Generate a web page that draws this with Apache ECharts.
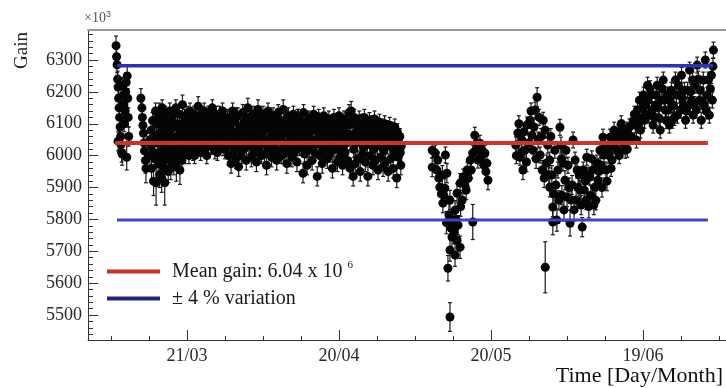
<!DOCTYPE html>
<html>
<head>
<meta charset="utf-8">
<script src="https://cdn.jsdelivr.net/npm/echarts@6/dist/echarts.min.js"></script>
<style>
  html, body { margin: 0; padding: 0; background: #fff; }
  #chart { width: 726px; height: 388px; }
</style>
</head>
<body>
<div id="chart"></div>
<script>
// PMT gain monitoring: each point is [day of year, gain (x10^3), error]
const runEarlyMarch = [
  [66.0,6345,30],[66.1,6310,25],[66.2,6285,25],[66.3,6240,25],[66.4,6215,25],[66.5,6180,25],
  [66.6,6150,25],[66.7,6120,25],[66.8,6090,25],[66.9,6060,25],[67.0,6035,30],[67.1,6010,30],
  [67.2,6005,35],[66.4,6045,30],[67.3,6220,25],[67.4,6190,25],[67.5,6160,25],[67.6,6100,25],
  [67.8,6140,30],[67.9,6200,30],[68.0,6230,30],[68.1,5995,40],[68.2,6250,30],[68.3,6180,30],
  [68.4,6120,30],[68.5,6060,30],
  [70.9,6180,30],[71.1,6150,30],[71.2,6120,30],[71.3,6095,30],[71.4,6070,30],[71.5,6040,30],
  [71.6,6015,35],[71.8,5985,40],[71.9,5960,45]
];

const runLateMarch = [
  [72.7,6050,25],[72.7,6000,30],[73.0,6030,25],[73.0,5960,35],[73.3,6010,30],[73.4,5920,45],
  [73.6,6060,25],[73.7,5990,30],[73.9,5915,70],[74.0,6100,25],[74.2,6120,25],[74.2,6040,25],
  [74.3,5975,35],[74.5,6140,25],[74.5,6070,25],[74.6,5940,40],[74.8,6095,25],[74.9,6010,30],
  [75.1,6150,25],[75.1,6050,25],[75.2,5980,30],[75.4,6110,25],[75.4,6020,25],[75.5,5960,35],
  [75.6,5915,70],[75.7,6130,25],[75.8,6075,25],[76.0,6000,30],[76.1,6100,25],[76.3,6060,25],
  [76.3,5950,35],[76.6,6140,25],[76.6,6080,25],[76.7,5985,30],[76.9,6110,25],[77.0,6030,25],
  [77.2,6125,25],[77.2,6055,25],[77.3,5995,30],[77.5,6090,25],[77.6,6010,30],[77.8,6150,25],
  [77.9,5965,45],[78.0,6060,25],[78.1,6100,25],[78.2,6040,25],[78.3,5990,30],[78.5,6130,25],
  [78.6,5955,45],[78.7,6070,25],[78.8,6080,25],[78.9,6020,25],[79.1,6160,30],[79.1,6100,25],
  [79.2,6045,25],[79.5,6120,25],[79.5,6060,25],[79.6,6005,30],[79.8,6090,25],[79.9,6030,25],
  [80.2,6110,25],[80.3,6050,25],[80.6,6140,25],[80.6,6075,25],[80.7,6020,25],[81.0,6100,25],
  [81.1,6045,25],[81.2,6015,30],[81.4,6130,25],[81.4,6065,25],[81.5,6000,25],[81.8,6095,25],
  [81.9,6040,25],[82.2,6155,30],[82.3,6080,25],[82.6,6120,25],[82.6,6060,25],[82.7,6010,25],
  [83.0,6090,25],[83.1,6035,25],[83.4,6140,25],[83.5,6070,25],[83.8,6105,25],[83.8,6050,25],
  [83.9,6000,25],[84.1,6030,30],[84.2,6130,25],[84.3,6075,25],[84.6,6090,25],[84.7,6030,25],
  [85.0,6150,25],[85.1,6085,25],[85.4,6110,25],[85.4,6055,25],[85.5,6015,25],[85.8,6130,25],
  [85.9,6070,25],[86.2,6095,25],[86.3,6040,25],[86.6,6120,25],[86.7,6065,25],[87.0,6140,25],
  [87.0,6085,25],[87.1,6025,25],[87.4,6105,25],[87.5,6020,30],[87.6,6050,25],
  [72.9,6080,25],[73.2,6110,25],[73.8,6140,25],[74.4,5995,30],[75.0,5930,45],[75.3,6085,25],
  [75.9,6045,25],[76.5,6020,25],[76.8,5960,35],[77.1,6090,25],[77.4,5975,35],[77.7,6040,25],
  [78.4,6015,25],[79.0,5985,30],[79.4,6080,25],[80.0,6130,25],[80.4,6000,25],[80.9,6060,25],
  [81.6,6110,25],[82.0,6025,25],[82.4,6100,25],[82.9,6130,25],[83.2,6065,25],[83.6,6020,25],
  [84.0,6095,25],[84.4,6050,25],[84.9,6115,25],[85.2,6030,25],[85.6,6090,25],[86.0,6010,25],
  [86.4,6130,25],[86.9,6045,25],[87.2,6115,25],[87.8,6080,25]
];

const runApril = [
  [88.0,6120,25],[88.1,6060,25],[88.2,6000,30],[88.5,6095,25],[88.6,6035,25],[88.7,5975,30],
  [89.0,6140,25],[89.1,6075,25],[89.2,6015,25],[89.5,6105,25],[89.6,6050,25],[89.7,5990,30],
  [90.0,6125,25],[90.1,6065,25],[90.2,5965,30],[90.5,6090,25],[90.6,6030,25],[90.7,6000,25],
  [91.0,6135,25],[91.1,6080,25],[91.2,6020,25],[91.5,6110,25],[91.6,6045,25],[91.7,5985,30],
  [92.0,6150,30],[92.1,6085,25],[92.2,6030,25],[92.5,6100,25],[92.6,6055,25],[92.7,5995,30],
  [93.0,6130,25],[93.1,6070,25],[93.2,6010,25],[93.5,6115,25],[93.6,6040,25],[93.7,5980,30],
  [94.0,6145,30],[94.1,6090,25],[94.2,6025,25],[94.5,6105,25],[94.6,6060,25],[94.7,6000,25],
  [95.0,6130,25],[95.1,6075,25],[95.2,6040,25],[95.5,6095,25],[95.6,6035,25],[95.7,5970,30],
  [96.0,6140,25],[96.1,6085,25],[96.2,6020,25],[96.5,6115,25],[96.6,6050,25],[96.7,5995,30],
  [97.0,6125,25],[97.1,6070,25],[97.2,6030,25],[97.5,6100,25],[97.6,6045,25],[97.7,5985,30],
  [98.0,6135,25],[98.1,6080,25],[98.2,6015,25],[98.5,6110,25],[98.6,6060,25],[98.7,6000,25],
  [99.0,6145,30],[99.1,6070,25],[99.2,6035,25],[99.5,6095,25],[99.6,6040,25],[99.7,5975,30],
  [100.0,6125,25],[100.1,6085,25],[100.2,6020,25],[100.5,6110,25],[100.6,6050,25],[100.7,5995,30],
  [101.0,6130,25],[101.1,6065,25],[101.2,6010,25],[101.5,6100,25],[101.6,6040,25],[101.7,5980,30],
  [102.0,6120,25],[102.1,6075,25],[102.2,6025,25],[102.5,6105,25],[102.6,6055,25],[102.9,5945,30],
  [103.0,6135,25],[103.1,6065,25],[103.2,6005,25],[103.5,6090,25],[103.6,6035,25],[103.7,5970,30],
  [104.0,6115,25],[104.1,6070,25],[104.2,6020,25],[104.5,6100,25],[104.6,6045,25],[104.7,5985,30],
  [105.0,6130,25],[105.1,6080,25],[105.2,6010,25],[105.5,6095,25],[105.6,6050,25],[105.7,5935,30],
  [106.0,6120,25],[106.1,6060,25],[106.2,6000,25],[106.5,6105,25],[106.6,6040,25],[106.7,5975,30],
  [107.0,6125,25],[107.1,6075,25],[107.2,6015,25],[107.5,6090,25],[107.6,6050,25],[107.7,5990,30],
  [108.0,6115,25],[108.1,6065,25],[108.2,6005,25],[108.5,6100,25],[108.6,6030,25],[108.7,5960,30],
  [109.0,6120,25],[109.1,6070,25],[109.2,6020,25],[109.5,6095,25],[109.6,6045,25],[109.7,5980,30],
  [110.0,6125,25],[110.1,6060,25],[110.2,5995,25],[110.5,6105,25],[110.6,6050,25],[110.7,5970,30],
  [111.0,6115,25],[111.1,6075,25],[111.2,6010,25],[111.5,6100,25],[111.6,6040,25],[111.7,5985,30],
  [112.0,6135,25],[112.1,6065,25],[112.2,5960,30],[112.4,6140,30],[112.5,6110,25],[112.6,6050,25],
  [112.8,5935,30],[113.0,6120,25],[113.1,6070,25],[113.2,5975,30],[113.5,6095,25],[113.6,6040,25],
  [113.7,5990,25],[114.0,6115,25],[114.1,6060,25],[114.2,5950,30],[114.5,6105,25],[114.6,6045,25],
  [114.7,6005,25],[115.0,6120,25],[115.1,6070,25],[115.2,5980,30],[115.5,6090,25],[115.6,6035,25],
  [115.7,5935,30],[116.0,6110,25],[116.1,6060,25],[116.2,6000,25],[116.5,6100,25],[116.6,6045,25],
  [116.7,5970,30],[117.0,6115,25],[117.1,6065,25],[117.2,5985,30],[117.5,6095,25],[117.6,6030,25],
  [117.7,5955,30],[118.0,6105,25],[118.1,6055,25],[118.2,5995,25],[118.5,6090,25],[118.6,6040,25],
  [118.7,5965,30],[119.0,6100,25],[119.1,6060,25],[119.2,5980,30],[119.5,6085,25],[119.6,6030,25],
  [119.7,5950,30],[120.0,6095,25],[120.1,6050,25],[120.2,5990,25],[120.5,6080,25],[120.6,6035,25],
  [120.7,5960,30],[121.0,6090,25],[121.1,6045,25],[121.4,5930,30],[121.5,6075,25],[121.6,6030,25],
  [121.7,5995,25],[122.0,6060,25],[122.1,6010,25],[122.2,5970,30],
  [88.3,6090,25],[88.8,6110,25],[89.3,6040,25],[89.8,6125,25],[90.3,6020,25],[90.8,6060,25],
  [91.3,6105,25],[91.8,6075,25],[92.3,6120,25],[92.8,6035,25],[93.3,6095,25],[93.8,6060,25],
  [94.3,6120,25],[94.8,6080,25],[95.3,6005,25],[95.8,6115,25],[96.3,6055,25],[96.8,6090,25],
  [97.3,6010,25],[97.8,6120,25],[98.3,6050,25],[98.8,6095,25],[99.3,6010,25],[99.8,6115,25],
  [100.3,6060,25],[100.8,6090,25],[101.3,6035,25],[101.8,6120,25],[102.3,6055,25],[102.8,6090,25],
  [103.3,6030,25],[103.8,6110,25],[104.3,6050,25],[104.8,6090,25],[105.3,6035,25],[105.8,6110,25],
  [106.3,6080,25],[106.8,6020,25],[107.3,6100,25],[107.8,6040,25],[108.3,6085,25],[108.8,6060,25],
  [109.3,6100,25],[109.8,6020,25],[110.3,6085,25],[110.8,6030,25],[111.3,6095,25],[111.8,6060,25],
  [112.3,6100,25],[112.9,6020,25],[113.3,6100,25],[113.8,6060,25],[114.3,6085,25],[114.8,6025,25],
  [115.3,6100,25],[115.8,6060,25],[116.3,6080,25],[116.8,6020,25],[117.3,6090,25],[117.8,6060,25],
  [118.3,6075,25],[118.8,6015,25],[119.3,6080,25],[119.8,6050,25],[120.3,6070,25],[120.8,6010,25],
  [121.3,6065,25],[121.8,6040,25],[122.3,6030,25]
];

const runMay = [
  [128.4,6017,25],[128.4,5964,30],[129.0,6008,25],[129.3,5955,30],[129.5,5986,25],[129.9,5901,30],
  [130.4,5939,30],[130.5,5851,30],[130.7,5876,30],[130.9,5898,30],[131.0,6002,25],[131.3,5945,30],
  [131.5,5647,40],[131.7,5814,35],[131.9,5861,30],[131.9,5704,35],[131.9,5494,45],[132.1,5773,35],
  [132.3,5745,35],[132.5,5788,30],[132.9,5829,30],[132.9,5688,35],[133.3,5735,35],[133.3,5882,30],
  [133.5,5782,30],[133.9,5713,35],[133.9,5914,30],[134.3,5861,30],[134.5,5933,25],[135.1,5892,30],
  [135.3,5955,25],[135.5,5929,25],[135.9,5986,25],[136.1,5955,25],[136.4,6008,25],[136.4,5792,55],
  [136.8,6064,25],[137.0,6017,25],[137.4,5986,25],[137.8,6039,25],[138.2,6017,25],[138.6,5970,25],
  [138.8,6008,25],[139.2,5976,25],[139.4,5923,30],
  [129.7,5930,30],[130.2,5880,30],[131.2,5790,35],[132.7,5760,35],[133.1,5800,35],[134.0,5840,30],
  [134.8,5910,30],[137.2,6040,25],[138.0,5995,25],[139.0,5950,30]
];

const runJune = [
  [144.9,6033,25],[145.3,6071,25],[145.7,5995,25],[146.1,6049,25],[146.3,5955,30],[146.7,6017,25],
  [147.1,6096,25],[147.7,6111,25],[148.1,6064,25],[148.3,6017,25],[148.7,6143,25],[149.1,6183,30],
  [149.3,6049,25],[149.7,6002,25],[150.1,5955,30],[150.3,6111,25],[150.7,6080,25],[150.7,5650,80],
  [151.0,5977,25],[151.2,6033,25],[151.6,5901,30],[151.6,5986,25],[152.0,5939,30],[152.2,5839,30],
  [152.2,5792,40],[152.6,6017,25],[152.8,5908,30],[153.0,5798,35],[153.2,5955,25],[153.6,6089,25],
  [153.8,6033,25],[154.0,5876,30],[154.2,5977,25],[154.6,5923,30],[154.8,6017,25],[155.0,5870,30],
  [155.2,5970,25],[155.6,5788,40],[155.8,5861,30],[156.0,5908,30],[156.2,6049,25],[156.6,5986,25],
  [156.8,5861,30],[157.0,5955,25],[157.4,5939,25],[157.6,5892,30],[157.8,5845,30],[158.0,5776,30],
  [158.2,5955,25],[158.4,5892,30],[158.8,5861,30],[158.9,5995,25],[159.1,5939,25],[159.5,5933,25],
  [159.7,5876,30],[160.1,5955,25],[160.3,5845,30],[160.5,5901,30],[160.9,5977,25],[161.1,5923,25],
  [161.5,6017,25],[161.7,5970,25],[162.1,6058,25],[162.3,6002,25],[162.7,5955,25],[163.1,6017,25],
  [163.5,6058,25],[163.9,5986,25],[164.3,6080,25],[164.5,6039,25],[164.9,6017,25],[165.1,6071,25],
  [165.5,6049,25],[165.9,6086,25],[166.1,6039,25],[166.5,6017,25],[166.8,6080,25],[167.0,6049,25],
  [145.0,6000,25],[145.5,6100,25],[146.0,6010,25],[146.5,6075,25],[147.0,5980,30],[147.4,6040,25],
  [147.9,6140,25],[148.5,6090,25],[148.9,5990,30],[149.5,6120,25],[149.9,6060,25],[150.5,5930,30],
  [151.4,5940,30],[151.8,6060,25],[152.4,5880,30],[153.4,5860,30],[153.9,5990,25],[154.4,5830,35],
  [155.4,5900,30],[156.4,5830,35],[157.2,5900,30],[158.6,5920,30],[159.3,5840,35],[159.9,5990,25],
  [160.7,5860,30],[161.3,5950,25],[161.9,5900,30],[162.5,6030,25],[162.9,5920,30],[163.3,6000,25],
  [163.7,5960,25],[164.1,6030,25],[164.7,6060,25],[165.3,6000,25],[165.7,6100,25],[166.3,6060,25],
  [166.9,6020,25],[167.3,6090,25],[167.7,6060,25],[168.1,6110,25]
];

const runJuly = [
  [168.5,6096,25],[168.7,6049,25],[168.9,6143,25],[169.3,6174,25],[169.5,6080,25],[169.7,6118,25],
  [170.1,6190,25],[170.3,6111,25],[170.5,6158,25],[170.9,6221,25],[171.0,6174,25],[171.2,6127,25],
  [171.6,6190,25],[171.8,6143,25],[172.0,6096,25],[172.4,6158,25],[172.6,6190,25],[172.8,6221,25],
  [173.2,6118,25],[173.4,6080,25],[173.6,6174,25],[174.0,6237,25],[174.2,6174,25],[174.4,6143,25],
  [174.8,6190,25],[175.0,6143,25],[175.2,6096,25],[175.6,6205,25],[175.8,6111,25],[176.0,6158,25],
  [176.4,6237,25],[176.6,6190,25],[176.8,6127,25],[177.2,6190,25],[177.4,6143,25],[177.6,6252,25],
  [178.0,6158,25],[178.2,6205,25],[178.4,6111,25],[178.8,6205,25],[179.0,6158,25],[179.2,6268,25],
  [179.6,6174,25],[179.8,6237,25],[179.9,6127,25],[180.3,6221,25],[180.5,6143,25],[180.7,6284,25],
  [181.1,6174,25],[181.3,6205,25],[181.5,6111,25],[181.9,6237,25],[182.1,6158,25],[182.3,6300,25],
  [182.7,6190,25],[182.9,6237,25],[183.1,6127,25],[183.5,6252,25],[183.7,6174,25],[183.9,6331,25],
  [168.3,6130,25],[169.1,6100,25],[169.9,6150,25],[170.7,6130,25],[171.4,6210,25],[172.2,6120,25],
  [173.0,6150,25],[173.8,6210,25],[174.6,6110,25],[175.4,6170,25],[176.2,6120,25],[177.0,6220,25],
  [177.8,6180,25],[178.6,6140,25],[179.4,6200,25],[180.1,6160,25],[180.9,6240,25],[181.7,6170,25],
  [182.5,6140,25],[183.3,6210,25],[183.8,6280,25]
];

const meanGain = 6040;          // x10^3
const variationPct = 4;         // +/- band
const meanLineSpan = [65.8, 182.8];
const upperLineSpan = [66.2, 183.8];
const lowerLineSpan = [66.2, 182.8];

const xMajorTicks = [80, 110, 140, 170];
const xMinorTicks = [65, 72.5, 87.5, 95, 102.5, 117.5, 125, 132.5, 147.5, 155, 162.5, 177.5, 185];
const yMajorTicks = [5500, 5600, 5700, 5800, 5900, 6000, 6100, 6200, 6300];
const yMinorTicks = [];
for (let v = 5440; v <= 6380; v += 20) if (v % 100 !== 0) yMinorTicks.push(v);

const X_MIN = 60.46, X_MAX = 186.38;
const Y_MIN = 5422, Y_MAX = 6394;

const allPoints = [].concat(runEarlyMarch, runLateMarch, runApril, runMay, runJune, runJuly);

const monthStart = [0, 31, 59, 90, 120, 151, 181, 212, 243, 273, 304, 334, 365];
function dayMonth(doy) {
  let m = 0;
  while (m < 11 && doy > monthStart[m + 1]) m++;
  const d = Math.round(doy - monthStart[m]);
  const pad = n => (n < 10 ? '0' : '') + n;
  return pad(d) + '/' + pad(m + 1);
}

const FONT = 'Liberation Serif';
const MEAN_NAME = 'Mean gain';
const VAR_NAME = 'variation';

const chart = echarts.init(document.getElementById('chart'), null, { renderer: 'canvas' });

const hiddenAxisBits = { axisLine: { show: false }, axisLabel: { show: false }, splitLine: { show: false } };

chart.setOption({
  animation: false,
  backgroundColor: '#ffffff',
  grid: { left: 88, right: 0, top: 30, bottom: 48 },
  xAxis: [
    {
      type: 'value', min: X_MIN, max: X_MAX, position: 'bottom',
      axisLine: { show: true, onZero: false, lineStyle: { color: '#333', width: 1 } },
      axisTick: { show: true, inside: true, length: 10, customValues: xMajorTicks, lineStyle: { color: '#333' } },
      axisLabel: { show: true, customValues: xMajorTicks, formatter: v => dayMonth(v),
                   fontFamily: FONT, fontSize: 18, color: '#2a2a2a', margin: 7 },
      splitLine: { show: false },
      name: 'Time [Day/Month]', nameLocation: 'end', nameGap: 0,
      nameTextStyle: { fontFamily: FONT, fontSize: 22, color: '#111', align: 'right',
                       verticalAlign: 'top', padding: [25, 3, 0, 0] }
    },
    Object.assign({
      type: 'value', min: X_MIN, max: X_MAX, position: 'bottom',
      axisTick: { show: true, inside: true, length: 4, customValues: xMinorTicks, lineStyle: { color: '#333' } }
    }, hiddenAxisBits),
    {
      type: 'value', min: X_MIN, max: X_MAX, position: 'top',
      axisLine: { show: true, onZero: false, lineStyle: { color: '#9a9a9a', width: 2 } },
      axisTick: { show: false }, axisLabel: { show: false }, splitLine: { show: false }
    }
  ],
  yAxis: [
    {
      type: 'value', min: Y_MIN, max: Y_MAX, position: 'left',
      axisLine: { show: true, onZero: false, lineStyle: { color: '#333', width: 1 } },
      axisTick: { show: true, inside: true, length: 10, customValues: yMajorTicks, lineStyle: { color: '#333' } },
      axisLabel: { show: true, customValues: yMajorTicks, formatter: v => String(v),
                   fontFamily: FONT, fontSize: 18, color: '#2a2a2a', margin: 6 },
      splitLine: { show: false }
    },
    Object.assign({
      type: 'value', min: Y_MIN, max: Y_MAX, position: 'left',
      axisTick: { show: true, inside: true, length: 5, customValues: yMinorTicks, lineStyle: { color: '#333' } },
      // vertical axis title, reading bottom to top, tucked left of the tick labels
      name: 'Gain', nameLocation: 'end', nameGap: 0, nameRotate: 90,
      nameTextStyle: { fontFamily: FONT, fontSize: 19, color: '#222', align: 'right',
                       verticalAlign: 'bottom', padding: [0, 2, 56, 0] }
    }, hiddenAxisBits)
  ],
  legend: {
    show: true, orient: 'vertical', left: 107, top: 260, itemGap: 4, padding: 0,
    itemWidth: 53, itemHeight: 4, selectedMode: false,
    data: [
      { name: MEAN_NAME, icon: 'rect', itemStyle: { color: '#c8322e' } },
      { name: VAR_NAME, icon: 'rect', itemStyle: { color: '#23237e' } }
    ],
    formatter: name => name === MEAN_NAME ? 'Mean gain: 6.04 x 10 {sup|6}' : '\u00b1 4 % variation',
    textStyle: {
      fontFamily: FONT, fontSize: 20, color: '#1a1a1a', lineHeight: 23, padding: [0, 0, 0, 7],
      rich: { sup: { fontFamily: FONT, fontSize: 11, verticalAlign: 'top', lineHeight: 23, padding: [0, 0, 12, 0] } }
    }
  },
  graphic: [
    {
      type: 'text', left: 84, top: 10,
      style: { text: '\u00d710{s|3}', fontFamily: FONT, fontSize: 14, fill: '#555',
               rich: { s: { fontSize: 9, fill: '#555', padding: [0, 0, 8, 0] } } }
    }
  ],
  series: [
    {
      type: 'custom', name: 'errors', xAxisIndex: 0, yAxisIndex: 0, z: 2,
      data: allPoints, encode: { x: 0, y: 1 },
      renderItem: (params, api) => {
        const x = api.value(0), y = api.value(1), e = api.value(2);
        const top = api.coord([x, y + e]);
        const bot = api.coord([x, y - e]);
        const cap = 2;
        const style = { stroke: '#1a1a1a', lineWidth: 1.2 };
        return {
          type: 'group',
          children: [
            { type: 'line', shape: { x1: top[0], y1: top[1], x2: bot[0], y2: bot[1] }, style },
            { type: 'line', shape: { x1: top[0] - cap, y1: top[1], x2: top[0] + cap, y2: top[1] }, style },
            { type: 'line', shape: { x1: bot[0] - cap, y1: bot[1], x2: bot[0] + cap, y2: bot[1] }, style }
          ]
        };
      }
    },
    {
      type: 'scatter', name: 'gain', xAxisIndex: 0, yAxisIndex: 0, z: 3,
      data: allPoints.map(p => [p[0], p[1]]),
      symbol: 'circle', symbolSize: 9,
      itemStyle: { color: '#050505', opacity: 1 }
    },
    {
      type: 'line', name: MEAN_NAME, z: 5, symbol: 'none', silent: true,
      data: [[meanLineSpan[0], meanGain], [meanLineSpan[1], meanGain]],
      lineStyle: { color: '#d2302c', width: 4 }, itemStyle: { color: '#c8322e' }
    },
    {
      type: 'line', name: VAR_NAME, z: 5, symbol: 'none', silent: true,
      data: [[upperLineSpan[0], meanGain * (1 + variationPct / 100)], [upperLineSpan[1], meanGain * (1 + variationPct / 100)]],
      lineStyle: { color: '#2e32b0', width: 3.5 }, itemStyle: { color: '#23237e' }
    },
    {
      type: 'line', name: VAR_NAME, z: 5, symbol: 'none', silent: true,
      data: [[lowerLineSpan[0], meanGain * (1 - variationPct / 100)], [lowerLineSpan[1], meanGain * (1 - variationPct / 100)]],
      lineStyle: { color: '#3f43c4', width: 3 }, itemStyle: { color: '#23237e' }
    }
  ]
});
</script>
</body>
</html>
